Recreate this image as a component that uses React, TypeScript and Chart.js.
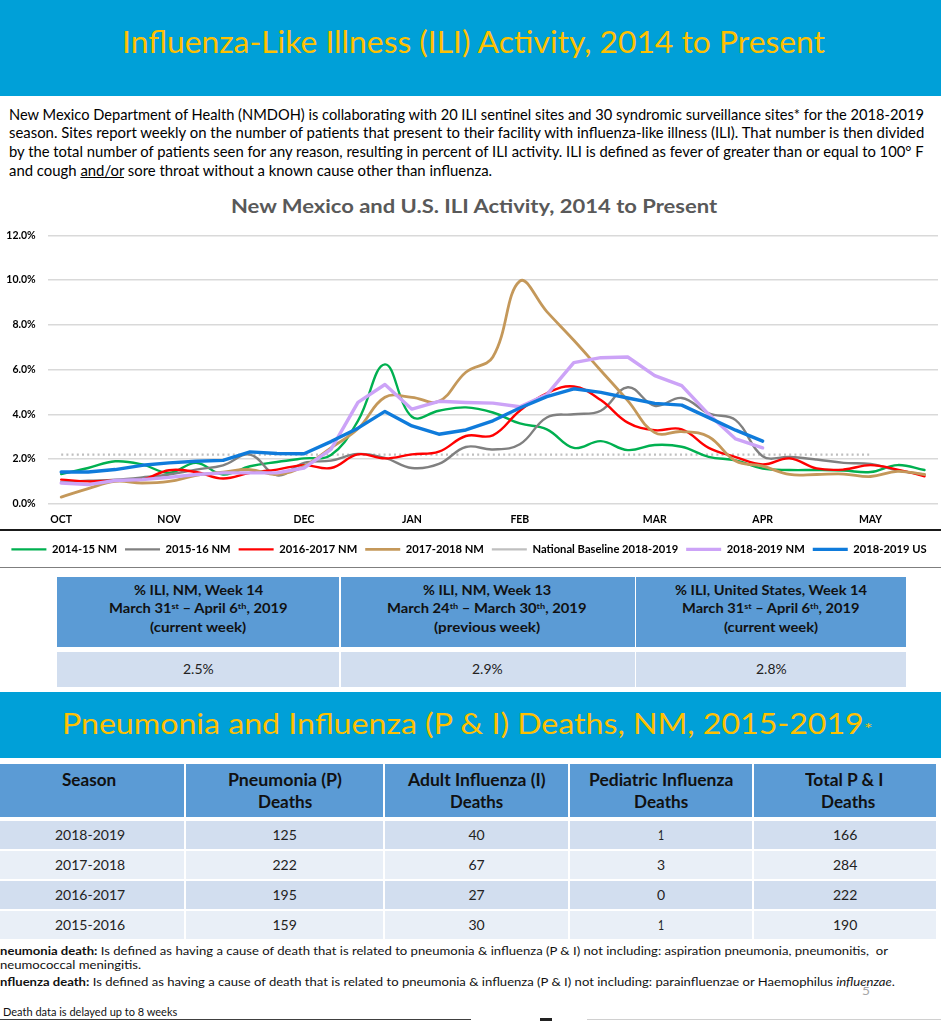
import React, { useEffect, useLayoutEffect, useRef, useState } from "react";
import { Chart, registerables } from "chart.js";
Chart.register(...registerables);

const FONT = "Lato, 'Open Sans', sans-serif";

// ---------- chart data ----------
const weekLabels = ["OCT", "", "", "", "NOV", "", "", "", "", "DEC", "", "", "", "JAN", "", "", "", "FEB", "", "", "", "", "MAR", "", "", "", "APR", "", "", "", "MAY", "", ""];
const nm201415 = [1.33, 1.6, 1.9, 1.76, 1.38, 1.83, 1.31, 1.68, 1.87, 2.03, 2.18, 3.71, 6.23, 3.89, 4.16, 4.31, 4.08, 3.59, 3.33, 2.5, 2.8, 2.4, 2.63, 2.55, 2.1, 1.94, 1.58, 1.51, 1.51, 1.49, 1.42, 1.73, 1.51];
const nm201516 = [0.97, 1.03, 1.08, 1.18, 1.31, 1.53, 1.72, 2.2, 1.27, 1.83, 1.93, 2.23, 2.05, 1.6, 1.78, 2.54, 2.43, 2.66, 3.86, 4.0, 4.16, 5.21, 4.38, 4.73, 4.04, 3.74, 2.13, 2.09, 1.98, 1.83, 1.78, 1.49, 1.31];
const nm201617 = [1.08, 1.0, 1.04, 1.08, 1.5, 1.42, 1.13, 1.38, 1.53, 1.73, 1.6, 2.21, 2.03, 2.21, 2.33, 3.03, 3.06, 4.16, 4.94, 5.24, 4.64, 3.63, 3.29, 3.33, 2.5, 2.09, 1.76, 2.03, 1.58, 1.53, 1.73, 1.53, 1.23];
const nm201718 = [0.3, 0.68, 1.0, 0.93, 1.0, 1.27, 1.42, 1.53, 1.31, 1.68, 2.5, 3.35, 4.76, 4.76, 4.58, 5.88, 6.56, 9.95, 8.59, 7.31, 5.96, 4.61, 3.18, 3.23, 3.0, 1.91, 1.68, 1.31, 1.31, 1.33, 1.22, 1.45, 1.31];
const nationalBaseline = [2.2, 2.2, 2.2, 2.2, 2.2, 2.2, 2.2, 2.2, 2.2, 2.2, 2.2, 2.2, 2.2, 2.2, 2.2, 2.2, 2.2, 2.2, 2.2, 2.2, 2.2, 2.2, 2.2, 2.2, 2.2, 2.2, 2.2, 2.2, 2.2, 2.2, 2.2];
const nm201819 = [0.93, 0.86, 1.04, 1.08, 1.18, 1.31, 1.38, 1.38, 1.38, 1.6, 2.43, 4.53, 5.33, 4.23, 4.58, 4.53, 4.5, 4.34, 4.88, 6.31, 6.53, 6.56, 5.73, 5.28, 4.0, 2.9, 2.5];
const us201819 = [1.42, 1.42, 1.53, 1.72, 1.83, 1.9, 1.94, 2.32, 2.25, 2.24, 2.78, 3.38, 4.13, 3.48, 3.11, 3.3, 3.71, 4.28, 4.79, 5.14, 4.98, 4.73, 4.49, 4.41, 3.85, 3.29, 2.8];
const seriesNames = ["2014-15 NM", "2015-16 NM", "2016-2017 NM", "2017-2018 NM", "National Baseline 2018-2019", "2018-2019 NM", "2018-2019 US"];

// ---------- table data ----------
const iliValues = ["2.5%", "2.9%", "2.8%"];
const seasons = ["2018-2019", "2017-2018", "2016-2017", "2015-2016"];
const pneumoniaDeaths = [125, 222, 195, 159];
const adultFluDeaths = [40, 67, 27, 30];
const pediatricFluDeaths = [1, 3, 0, 1];
const totalDeaths = [166, 284, 222, 190];

type FitProps = {
  x?: number;
  cx?: number;
  base: number;
  w: number;
  size: number;
  weight?: number;
  color?: string;
  children: React.ReactNode;
};

function Fit({ x, cx, base, w, size, weight = 400, color = "#000", children }: FitProps) {
  const ref = useRef<HTMLSpanElement>(null);
  const [sx, setSx] = useState(1);
  useLayoutEffect(() => {
    const measure = () => {
      const el = ref.current;
      if (!el) return;
      const nat = el.offsetWidth;
      if (nat > 0) setSx(w / nat);
    };
    measure();
    const f = (document as any).fonts;
    if (f && f.ready) f.ready.then(measure);
  }, [w]);
  const left = cx !== undefined ? cx - w / 2 : x ?? 0;
  return (
    <span
      ref={ref}
      style={{
        position: "absolute",
        left,
        top: base - 0.887 * size,
        fontFamily: FONT,
        fontSize: size,
        fontWeight: weight,
        color,
        lineHeight: `${size}px`,
        whiteSpace: "nowrap",
        transform: `scaleX(${sx})`,
        transformOrigin: "0 0",
      }}
    >
      {children}
    </span>
  );
}

const Sup = ({ children }: { children: React.ReactNode }) => (
  <span style={{ fontSize: "0.62em", position: "relative", top: "-0.5em", lineHeight: 0 }}>{children}</span>
);

const CANVAS_TOP = 217;
const CANVAS_H = 350;

function ILIChart() {
  const ref = useRef<HTMLCanvasElement>(null);
  useEffect(() => {
    const canvas = ref.current;
    if (!canvas) return;
    const mk = (i: number, data: number[], color: string, width: number, tension: number, order: number, dash: number[] = []) => ({
      label: seriesNames[i],
      data,
      borderColor: color,
      backgroundColor: color,
      borderWidth: width,
      tension,
      order,
      borderDash: dash,
      borderCapStyle: dash.length ? ("butt" as const) : ("round" as const),
      borderJoinStyle: "round" as const,
      pointRadius: 0,
      pointHoverRadius: 0,
      fill: false,
    });
    const tickFont = { family: FONT, size: 10.5, weight: "bold" as const };
    const chart = new Chart(canvas, {
      type: "line",
      data: {
        labels: weekLabels,
        datasets: [
          mk(0, nm201415, "#00B050", 2.4, 0.4, 6),
          mk(1, nm201516, "#808080", 2.4, 0.4, 5),
          mk(2, nm201617, "#FF0000", 2.4, 0.4, 4),
          mk(3, nm201718, "#C4985A", 2.8, 0.4, 3),
          mk(4, nationalBaseline, "#BFBFBF", 2.2, 0, 7, [2, 3.2]),
          mk(5, nm201819, "#CCA3F7", 3.4, 0, 1),
          mk(6, us201819, "#0F7BDB", 3.4, 0, 0),
        ],
      },
      options: {
        animation: false,
        responsive: false,
        maintainAspectRatio: false,
        events: [],
        layout: { padding: { top: 0, bottom: 2, left: 0, right: 3 } },
        plugins: {
          tooltip: { enabled: false },
          legend: {
            position: "bottom",
            labels: {
              usePointStyle: true,
              pointStyle: "line",
              pointStyleWidth: 35,
              boxHeight: 10,
              padding: 8,
              color: "#000",
              font: { family: FONT, size: 11.2, weight: "bold" },
              sort: (a: any, b: any) => a.datasetIndex - b.datasetIndex,
            },
          },
        },
        scales: {
          x: {
            type: "category",
            offset: true,
            grid: { display: false },
            border: { display: false },
            ticks: { autoSkip: false, maxRotation: 0, minRotation: 0, padding: 1.5, color: "#000", font: tickFont },
            afterFit: (s: any) => {
              s.height = 32;
            },
          },
          y: {
            min: 0,
            max: 12,
            grid: { color: "#D9D9D9", lineWidth: 1.5, drawTicks: false },
            border: { display: false },
            ticks: {
              stepSize: 2,
              padding: 12,
              color: "#000",
              font: tickFont,
              callback: (v: any) => Number(v).toFixed(1) + "%",
            },
            afterFit: (s: any) => {
              s.width = 47.7;
            },
          },
        },
      } as any,
    });
    return () => chart.destroy();
  }, []);
  return (
    <canvas
      ref={ref}
      width={941}
      height={CANVAS_H}
      style={{ position: "absolute", left: 0, top: CANVAS_TOP, width: 941, height: CANVAS_H }}
    />
  );
}

const Box = ({ x, y, w, h, bg }: { x: number; y: number; w: number; h: number; bg: string }) => (
  <div style={{ position: "absolute", left: x, top: y, width: w, height: h, background: bg }} />
);

export default function App() {
  const BANNER = "#00A0D8";
  const GOLD = "#FFC000";
  const HEAD = "#5B9BD5";
  const DARKROW = "#D2DEEF";
  const LIGHTROW = "#E9EFF7";

  const t2cols: [number, number][] = [
    [0, 184],
    [186, 383],
    [385, 568],
    [570, 752],
    [754, 936],
  ];
  const t2centers = [90, 284.5, 476.5, 661, 845];
  const t2rowTop = [820.5, 850.5, 880.5, 910.5];
  const t2rowBase = [840, 870, 900, 930];
  const t2vals = [seasons, pneumoniaDeaths, adultFluDeaths, pediatricFluDeaths, totalDeaths];
  const t2widths = [
    [70, 70, 70, 70],
    [24, 24, 24, 24],
    [16, 16, 16, 16],
    [6, 8, 8, 6],
    [24, 24, 24, 24],
  ];

  const t1cols: [number, number][] = [
    [57, 339],
    [340.5, 634.5],
    [636, 906],
  ];
  const t1centers = [198, 487, 771];

  return (
    <div
      style={{
        position: "absolute",
        left: 0,
        top: 0,
        width: 941,
        height: 1021,
        background: "#fff",
        overflow: "hidden",
        fontFamily: FONT,
      }}
    >
      {/* Banner 1 */}
      <Box x={0} y={0} w={941} h={96} bg={BANNER} />
      <Fit cx={473.5} base={54.3} w={703} size={31.5} color={GOLD}>
        Influenza-Like Illness (ILI) Activity, 2014 to Present
      </Fit>

      {/* Paragraph */}
      <Fit x={9} base={120} w={915} size={15}>
        New Mexico Department of Health (NMDOH) is collaborating with 20 ILI sentinel sites and 30 syndromic surveillance sites* for the 2018-2019
      </Fit>
      <Fit x={9} base={138.7} w={915} size={15}>
        season. Sites report weekly on the number of patients that present to their facility with influenza-like illness (ILI). That number is then divided
      </Fit>
      <Fit x={9} base={157.3} w={915} size={15}>
        by the total number of patients seen for any reason, resulting in percent of ILI activity. ILI is defined as fever of greater than or equal to 100° F
      </Fit>
      <Fit x={9} base={176} w={483} size={15}>
        and cough <span style={{ textDecoration: "underline" }}>and/or</span> sore throat without a known cause other than influenza.
      </Fit>

      {/* Chart title */}
      <Fit cx={474} base={213.3} w={486} size={19.5} weight={700} color="#595959">
        New Mexico and U.S. ILI Activity, 2014 to Present
      </Fit>

      <ILIChart />
      <Box x={0} y={529.3} w={941} h={1.6} bg="#1a1a1a" />
      <Box x={0} y={566.5} w={941} h={1.2} bg="#7f7f7f" />

      {/* Table 1 */}
      {t1cols.map(([a, b], i) => (
        <React.Fragment key={"t1" + i}>
          <Box x={a} y={576.7} w={b - a} h={70.6} bg={HEAD} />
          <Box x={a} y={651.7} w={b - a} h={35.6} bg={DARKROW} />
        </React.Fragment>
      ))}
      <Fit cx={t1centers[0]} base={595.7} w={129} size={13.5} weight={700} color="#111">
        % ILI, NM, Week 14
      </Fit>
      <Fit cx={t1centers[0]} base={614} w={179} size={13.5} weight={700} color="#111">
        March 31<Sup>st</Sup> – April 6<Sup>th</Sup>, 2019
      </Fit>
      <Fit cx={t1centers[0]} base={632.7} w={96} size={13.5} weight={700} color="#111">
        (current week)
      </Fit>
      <Fit cx={t1centers[1]} base={595.7} w={128} size={13.5} weight={700} color="#111">
        % ILI, NM, Week 13
      </Fit>
      <Fit cx={t1centers[1]} base={614} w={200} size={13.5} weight={700} color="#111">
        March 24<Sup>th</Sup> – March 30<Sup>th</Sup>, 2019
      </Fit>
      <Fit cx={t1centers[1]} base={632.7} w={106} size={13.5} weight={700} color="#111">
        (previous week)
      </Fit>
      <Fit cx={t1centers[2]} base={595.7} w={192} size={13.5} weight={700} color="#111">
        % ILI, United States, Week 14
      </Fit>
      <Fit cx={t1centers[2]} base={614} w={178} size={13.5} weight={700} color="#111">
        March 31<Sup>st</Sup> – April 6<Sup>th</Sup>, 2019
      </Fit>
      <Fit cx={t1centers[2]} base={632.7} w={94} size={13.5} weight={700} color="#111">
        (current week)
      </Fit>
      {iliValues.map((v, i) => (
        <Fit key={"v" + i} cx={t1centers[i]} base={675} w={31} size={13.5} color="#222">
          {v}
        </Fit>
      ))}

      {/* Banner 2 */}
      <Box x={0} y={691.7} w={941} h={66.6} bg={BANNER} />
      <Fit x={62} base={734.3} w={802} size={28.4} color={GOLD}>
        Pneumonia and Influenza (P &amp; I) Deaths, NM, 2015-2019
      </Fit>
      <Fit x={864} base={734} w={9} size={16} color={GOLD}>
        *
      </Fit>

      {/* Table 2 */}
      {t2cols.map(([a, b], i) => (
        <React.Fragment key={"t2" + i}>
          <Box x={a} y={764} w={b - a} h={53.3} bg={HEAD} />
          {t2rowTop.map((rt, r) => (
            <Box key={r} x={a} y={rt} w={b - a} h={28} bg={r % 2 === 0 ? DARKROW : LIGHTROW} />
          ))}
        </React.Fragment>
      ))}
      <Fit cx={89} base={786.7} w={54} size={16.5} weight={700} color="#111">
        Season
      </Fit>
      <Fit cx={285} base={786.7} w={114} size={16.5} weight={700} color="#111">
        Pneumonia (P)
      </Fit>
      <Fit cx={285} base={808.3} w={54} size={16.5} weight={700} color="#111">
        Deaths
      </Fit>
      <Fit cx={477} base={786.7} w={138} size={16.5} weight={700} color="#111">
        Adult Influenza (I)
      </Fit>
      <Fit cx={476.5} base={808.3} w={53} size={16.5} weight={700} color="#111">
        Deaths
      </Fit>
      <Fit cx={661} base={786.7} w={144} size={16.5} weight={700} color="#111">
        Pediatric Influenza
      </Fit>
      <Fit cx={661} base={808.3} w={54} size={16.5} weight={700} color="#111">
        Deaths
      </Fit>
      <Fit cx={844} base={786.7} w={78} size={16.5} weight={700} color="#111">
        Total P &amp; I
      </Fit>
      <Fit cx={848} base={808.3} w={54} size={16.5} weight={700} color="#111">
        Deaths
      </Fit>
      {t2vals.map((col, c) =>
        col.map((v, r) => (
          <Fit key={c + "-" + r} cx={t2centers[c]} base={t2rowBase[r]} w={t2widths[c][r]} size={14} color="#222">
            {String(v)}
          </Fit>
        ))
      )}

      {/* Footnotes */}
      <Fit x={0} base={956} w={888} size={12.1} color="#111">
        <b>neumonia death:</b> Is defined as having a cause of death that is related to pneumonia &amp; influenza (P &amp; I) not including: aspiration pneumonia, pneumonitis,{"\u00a0"} or
      </Fit>
      <Fit x={0} base={969.3} w={141} size={12.1} color="#111">
        neumococcal meningitis.
      </Fit>
      <Fit x={0} base={986.7} w={895} size={12.1} color="#111">
        <b>nfluenza death:</b> Is defined as having a cause of death that is related to pneumonia &amp; influenza (P &amp; I) not including: parainfluenzae or Haemophilus <i>influenzae</i>.
      </Fit>
      <Fit x={862} base={996} w={8} size={12} color="#A6A6A6">
        5
      </Fit>
      <Fit x={3} base={1016} w={174} size={10.5} color="#111">
        Death data is delayed up to 8 weeks
      </Fit>
      <Box x={0} y={1018.8} w={471} h={1.6} bg="#404040" />
      <Box x={540} y={1018.3} w={12} h={2.5} bg="#222" />
      <Box x={587} y={1019.2} w={354} h={1} bg="#D0D0D0" />
    </div>
  );
}
